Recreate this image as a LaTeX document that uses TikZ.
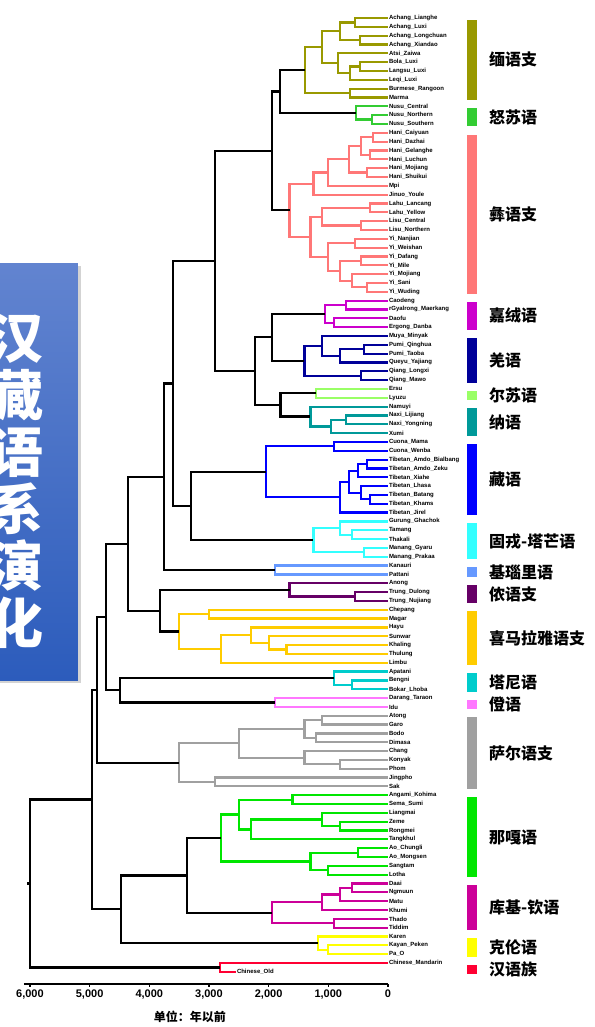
\documentclass[tikz,border=0pt]{standalone}
\usepackage{fontspec}
\setmainfont{Liberation Sans}
\newfontfamily\cjk{Noto Sans CJK SC}
\usetikzlibrary{calc, shadows}

\definecolor{cBurm}{RGB}{153,153,0}
\definecolor{cNusu}{RGB}{51,204,51}
\definecolor{cNgwi}{RGB}{255,119,119}
\definecolor{cRgy}{RGB}{204,0,204}
\definecolor{cQia}{RGB}{0,0,153}
\definecolor{cErs}{RGB}{153,255,102}
\definecolor{cNai}{RGB}{0,153,153}
\definecolor{cTib}{RGB}{0,0,255}
\definecolor{cTam}{RGB}{51,255,255}
\definecolor{cKan}{RGB}{102,153,255}
\definecolor{cNun}{RGB}{102,0,102}
\definecolor{cHim}{RGB}{255,204,0}
\definecolor{cTan}{RGB}{0,204,204}
\definecolor{cDig}{RGB}{255,119,255}
\definecolor{cSal}{RGB}{160,160,160}
\definecolor{cNag}{RGB}{0,230,0}
\definecolor{cKuk}{RGB}{204,0,153}
\definecolor{cKar}{RGB}{255,255,0}
\definecolor{cSin}{RGB}{255,0,51}
\definecolor{boxtop}{RGB}{98,132,208}
\definecolor{boxbot}{RGB}{44,92,188}

\tikzset{
  br/.style={line width=2.2pt},
  leaf/.style={anchor=west, inner sep=1pt, outer sep=0pt, font=\bfseries\fontsize{6}{6}\selectfont},
  grp/.style={anchor=west, inner sep=0pt, font=\cjk\bfseries\fontsize{16}{16}\selectfont},
  axis/.style={line width=1.2pt},
  ticklab/.style={anchor=north, inner sep=0pt, yshift=-6pt, font=\bfseries\fontsize{11}{11}\selectfont},
}

% join two children #4,#5 into node #2 at age #3 (years)
\newcommand\jn[5][black]{%
  \path let \p1=(#4), \p2=(#5), \p3=(#3,0) in coordinate (#2) at (\x3,{0.5*\y1+0.5*\y2});
  \draw[br,#1] (#4) -| (#2) |- (#5);
}
% colour bar and group name for rows #2..#3
\newcommand\grp[5]{%
  \fill[#1] ([xshift=79pt,yshift=-1.7pt]0,#2) rectangle ([xshift=89pt,yshift=-2.5pt]0,#3);
  \node[grp] (#5) at ($([xshift=101pt]0,#2)!.5!([xshift=101pt]0,#3)+(0pt,-2.1pt)$) {#4};
}

\begin{document}
\begin{tikzpicture}[x={(-0.05967pt,0pt)}, y={(0pt,-8.832pt)}]
  % frame, title, unit
  \begin{scope}[x=1pt, y=-1pt, shift={(-388pt,9.168pt)}]
    \useasboundingbox (0,0) rectangle (594,1027);
    \shade[top color=boxtop, bottom color=boxbot, drop shadow={opacity=0.35}] (-30,263) rectangle (78,680);
    \node[text=white, align=center, inner sep=0pt, font=\cjk\bfseries\fontsize{54}{57}\selectfont] (ttl) at (17,481) {汉\\藏\\语\\系\\演\\化};
    \node[inner sep=0pt, font=\cjk\bfseries\fontsize{12}{12}\selectfont] (unit) at (190,1017) {单位：年以前};
  \end{scope}

  % leaves
  \foreach \nm [count=\i] in {Achang\_Lianghe, Achang\_Luxi, Achang\_Longchuan, Achang\_Xiandao, Atsi\_Zaiwa, Bola\_Luxi, Langsu\_Luxi, Leqi\_Luxi, Burmese\_Rangoon, Marma,
      Nusu\_Central, Nusu\_Northern, Nusu\_Southern,
      Hani\_Caiyuan, Hani\_Dazhai, Hani\_Gelanghe, Hani\_Luchun, Hani\_Mojiang, Hani\_Shuikui, Mpi, Jinuo\_Youle, Lahu\_Lancang, Lahu\_Yellow, Lisu\_Central, Lisu\_Northern, Yi\_Nanjian, Yi\_Weishan, Yi\_Dafang, Yi\_Mile, Yi\_Mojiang, Yi\_Sani, Yi\_Wuding,
      Caodeng, rGyalrong\_Maerkang, Daofu, Ergong\_Danba, Muya\_Minyak, Pumi\_Qinghua, Pumi\_Taoba, Queyu\_Yajiang, Qiang\_Longxi, Qiang\_Mawo,
      Ersu, Lyuzu, Namuyi, Naxi\_Lijiang, Naxi\_Yongning, Xumi,
      Cuona\_Mama, Cuona\_Wenba, Tibetan\_Amdo\_Bialbang, Tibetan\_Amdo\_Zeku, Tibetan\_Xiahe, Tibetan\_Lhasa, Tibetan\_Batang, Tibetan\_Khams, Tibetan\_Jirel,
      Gurung\_Ghachok, Tamang, Thakali, Manang\_Gyaru, Manang\_Prakaa, Kanauri, Pattani, Anong, Trung\_Dulong, Trung\_Nujiang,
      Chepang, Magar, Hayu, Sunwar, Khaling, Thulung, Limbu, Apatani, Bengni, Bokar\_Lhoba, Darang\_Taraon, Idu,
      Atong, Garo, Bodo, Dimasa, Chang, Konyak, Phom, Jingpho, Sak,
      Angami\_Kohima, Sema\_Sumi, Liangmai, Zeme, Rongmei, Tangkhul, Ao\_Chungli, Ao\_Mongsen, Sangtam, Lotha,
      Daai, Ngmuun, Matu, Khumi, Thado, Tiddim, Karen, Kayan\_Peken, Pa\_O, Chinese\_Mandarin}
    \node[leaf] (l\i) at (0,\i) {\nm};
  \node[leaf] (l109) at (2547,109) {Chinese\_Old};

  % Burmish, Nusu
  \jn[cBurm]{ac1}{550}{l1}{l2}
  \jn[cBurm]{ac2}{470}{l3}{l4}
  \jn[cBurm]{ac}{800}{ac1}{ac2}
  \jn[cBurm]{bl1}{470}{l6}{l7}
  \jn[cBurm]{bl2}{640}{bl1}{l8}
  \jn[cBurm]{bl3}{840}{l5}{bl2}
  \jn[cBurm]{bu1}{1100}{ac}{bl3}
  \jn[cBurm]{bu2}{640}{l9}{l10}
  \jn[cBurm]{burm}{1390}{bu1}{bu2}
  \jn[cNusu]{nu1}{270}{l12}{l13}
  \jn[cNusu]{nusu}{540}{l11}{nu1}
  \jn{lb1}{1810}{burm}{nusu}
  % Ngwi
  \jn[cNgwi]{hn1}{250}{l14}{l15}
  \jn[cNgwi]{hn2}{300}{l16}{l17}
  \jn[cNgwi]{hn3}{450}{hn1}{hn2}
  \jn[cNgwi]{hn4}{350}{l18}{l19}
  \jn[cNgwi]{hn5}{650}{hn3}{hn4}
  \jn[cNgwi]{hn6}{1000}{hn5}{l20}
  \jn[cNgwi]{hn7}{1250}{hn6}{l21}
  \jn[cNgwi]{lh}{300}{l22}{l23}
  \jn[cNgwi]{ls}{450}{l24}{l25}
  \jn[cNgwi]{ll}{1100}{lh}{ls}
  \jn[cNgwi]{yi1}{550}{l26}{l27}
  \jn[cNgwi]{yi2}{450}{l28}{l29}
  \jn[cNgwi]{yi3}{350}{l31}{l32}
  \jn[cNgwi]{yi4}{600}{l30}{yi3}
  \jn[cNgwi]{yi5}{800}{yi2}{yi4}
  \jn[cNgwi]{yi6}{1000}{yi1}{yi5}
  \jn[cNgwi]{ly}{1300}{ll}{yi6}
  \jn[cNgwi]{ngwi}{1650}{hn7}{ly}
  \jn{lb2}{1940}{lb1}{ngwi}
  % Qiangic, Ersu, Naic
  \jn[cRgy]{gy1}{700}{l33}{l34}
  \jn[cRgy]{gy2}{900}{l35}{l36}
  \jn[cRgy]{gy}{1050}{gy1}{gy2}
  \jn[cQia]{pm}{400}{l38}{l39}
  \jn[cQia]{pq}{800}{pm}{l40}
  \jn[cQia]{mu}{1100}{l37}{pq}
  \jn[cQia]{qi}{450}{l41}{l42}
  \jn[cQia]{qn}{1400}{mu}{qi}
  \jn{q1}{1950}{gy}{qn}
  \jn[cErs]{ers}{1200}{l43}{l44}
  \jn[cNai]{nx}{700}{l46}{l47}
  \jn[cNai]{nx2}{950}{nx}{l48}
  \jn[cNai]{na}{1300}{l45}{nx2}
  \jn{en}{1800}{ers}{na}
  \jn{q2}{2230}{q1}{en}
  \jn{bq}{2900}{lb2}{q2}
  % Tibetan, Tamangic
  \jn[cTib]{cu}{900}{l49}{l50}
  \jn[cTib]{am}{350}{l51}{l52}
  \jn[cTib]{am2}{500}{am}{l53}
  \jn[cTib]{kh}{300}{l55}{l56}
  \jn[cTib]{lk}{450}{l54}{kh}
  \jn[cTib]{tb1}{650}{am2}{lk}
  \jn[cTib]{tb2}{800}{tb1}{l57}
  \jn[cTib]{tib}{2050}{cu}{tb2}
  \jn[cTam]{tm1}{600}{l59}{l60}
  \jn[cTam]{tm2}{800}{l58}{tm1}
  \jn[cTam]{mn}{400}{l61}{l62}
  \jn[cTam]{tam}{1250}{tm2}{mn}
  \jn{tt}{3300}{tib}{tam}
  \jn{a1}{3600}{bq}{tt}
  % Kanauri, Nungish, Himalayan
  \jn[cKan]{kan}{1900}{l63}{l64}
  \jn{a2}{3750}{a1}{kan}
  \jn[cNun]{tr}{550}{l66}{l67}
  \jn[cNun]{nun}{1650}{l65}{tr}
  \jn[cHim]{cm}{3000}{l68}{l69}
  \jn[cHim]{ki1}{1700}{l72}{l73}
  \jn[cHim]{ki2}{2000}{l71}{ki1}
  \jn[cHim]{ki3}{2300}{l70}{ki2}
  \jn[cHim]{ki4}{2800}{ki3}{l74}
  \jn[cHim]{him}{3500}{cm}{ki4}
  \jn{nh}{3820}{nun}{him}
  \jn{a3}{4357}{a2}{nh}
  % Tani, Digarish
  \jn[cTan]{tn1}{600}{l76}{l77}
  \jn[cTan]{tani}{900}{l75}{tn1}
  \jn[cDig]{dig}{1900}{l78}{l79}
  \jn{td}{4490}{tani}{dig}
  \jn{a5}{4726}{a3}{td}
  % Sal
  \jn[cSal]{ag}{1100}{l80}{l81}
  \jn[cSal]{bd}{1200}{l82}{l83}
  \jn[cSal]{bg}{1400}{ag}{bd}
  \jn[cSal]{ck}{800}{l85}{l86}
  \jn[cSal]{ck2}{1400}{l84}{ck}
  \jn[cSal]{bgk}{2500}{bg}{ck2}
  \jn[cSal]{js}{2900}{l87}{l88}
  \jn[cSal]{sal}{3500}{bgk}{js}
  \jn{a6}{4877}{a5}{sal}
  % Naga, Kuki-Chin, Karen
  \jn[cNag]{as}{1600}{l89}{l90}
  \jn[cNag]{zr}{800}{l92}{l93}
  \jn[cNag]{lz}{1100}{l91}{zr}
  \jn[cNag]{lzt}{2300}{lz}{l94}
  \jn[cNag]{an1}{2500}{as}{lzt}
  \jn[cNag]{ao}{500}{l95}{l96}
  \jn[cNag]{as2}{1000}{l97}{l98}
  \jn[cNag]{aog}{1300}{ao}{as2}
  \jn[cNag]{naga}{2800}{an1}{aog}
  \jn[cKuk]{dn}{600}{l99}{l100}
  \jn[cKuk]{dm}{800}{dn}{l101}
  \jn[cKuk]{dm2}{1100}{dm}{l102}
  \jn[cKuk]{tt2}{900}{l103}{l104}
  \jn[cKuk]{kuki}{1950}{dm2}{tt2}
  \jn{nk}{3370}{naga}{kuki}
  \jn[cKar]{kp}{1005}{l106}{l107}
  \jn[cKar]{kar}{1173}{l105}{kp}
  \jn{nkk}{4475}{nk}{kar}
  \jn{tbn}{4960}{a6}{nkk}
  % Sinitic and root
  \jn[cSin]{sin}{2815}{l108}{l109}
  \jn{root}{6000}{tbn}{sin}
  \draw[br] (root) -- ++(-3pt,0pt);

  % groups
  \grp{cBurm}{1}{10}{缅语支}{g1}
  \grp{cNusu}{11}{13}{怒苏语}{g2}
  \grp{cNgwi}{14}{32}{彝语支}{g3}
  \grp{cRgy}{33}{36}{嘉绒语}{g4}
  \grp{cQia}{37}{42}{羌语}{g5}
  \grp{cErs}{43}{44}{尔苏语}{g6}
  \grp{cNai}{45}{48}{纳语}{g7}
  \grp{cTib}{49}{57}{藏语}{g8}
  \grp{cTam}{58}{62}{固戎-塔芒语}{g9}
  \grp{cKan}{63}{64}{基瑙里语}{g10}
  \grp{cNun}{65}{67}{侬语支}{g11}
  \grp{cHim}{68}{74}{喜马拉雅语支}{g12}
  \grp{cTan}{75}{77}{塔尼语}{g13}
  \grp{cDig}{78}{79}{僜语}{g14}
  \grp{cSal}{80}{88}{萨尔语支}{g15}
  \grp{cNag}{89}{98}{那嘎语}{g16}
  \grp{cKuk}{99}{104}{库基-钦语}{g17}
  \grp{cKar}{105}{107}{克伦语}{g18}
  \grp{cSin}{108}{109}{汉语族}{g19}

  % time axis
  \draw[axis] (6100,110.37) -- (0,110.37);
  \foreach \t/\lb in {0/0, 1000/{1,000}, 2000/{2,000}, 3000/{3,000}, 4000/{4,000}, 5000/{5,000}, 6000/{6,000}} {
    \draw[axis] (\t,110.37) -- ++(0pt,-3pt);
    \node[ticklab] (t\t) at (\t,110.37) {\lb};
  }
\end{tikzpicture}
\end{document}
